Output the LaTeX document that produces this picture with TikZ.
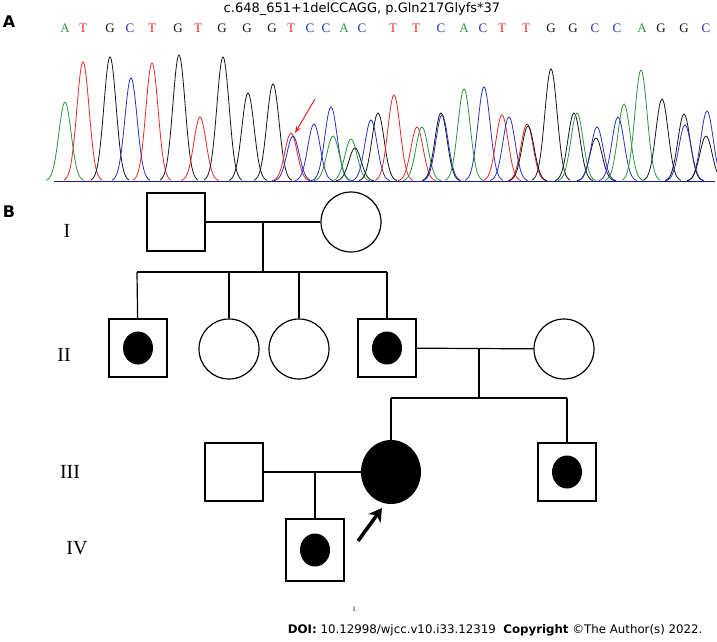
\documentclass[tikz,border=0pt]{standalone}
\usepackage{fontspec}
\setmainfont{Liberation Serif}
\newfontfamily\dvs{DejaVu Sans}
\usepackage{tikz}
\usetikzlibrary{arrows.meta, shapes.geometric}
\definecolor{cg}{RGB}{40,150,60}
\definecolor{cr}{RGB}{230,40,40}
\definecolor{cb}{RGB}{40,50,190}
\definecolor{ck}{RGB}{20,20,20}
\tikzset{
	male/.style={draw, line width=1.2pt, minimum size=58pt, inner sep=0pt},
	female/.style={draw, line width=1.2pt, circle, minimum size=60pt, inner sep=0pt},
	dot/.style={fill=black, ellipse, minimum width=30pt, minimum height=33pt, inner sep=0pt},
	gen/.style={font=\fontsize{20}{22}\selectfont},
	link/.style={line width=1.2pt}
}
\begin{document}
\begin{tikzpicture}[x=1pt,y=-1pt]
	\useasboundingbox (0,0) rectangle (717,641);

	% part A
	\node[font=\dvs\bfseries\fontsize{16}{18}\selectfont] at (9,22) {A};
	\node[font=\dvs\fontsize{13}{15}\selectfont] at (362,9) {c.648\_651+1delCCAGG, p.Gln217Glyfs*37};
	\foreach \x/\b/\c in {65/A/cg, 83/T/cr, 110/G/ck, 130/C/cb, 152/T/cr, 178/G/ck,
		198/T/cr, 222/G/ck, 247/G/ck, 272/G/ck, 291/T/cr, 310/C/cb, 326/C/cb,
		344/A/cg, 362/C/cb, 393/T/cr, 416/T/cr, 441/C/cb, 464/A/cg, 483/C/cb,
		502/T/cr, 526/T/cr, 551/G/ck, 573/G/ck, 595/C/cb, 617/C/cb, 642/A/cg,
		661/G/ck, 684/G/ck, 706/C/cb}
		\node[text=\c, font=\fontsize{13}{15}\selectfont] at (\x,28) {\b};

	\draw[cb!60!black, line width=1pt] (54,181) -- (715,181);
	\foreach \p/\h/\c in {65/102/cg, 83/62/cr, 110/57/ck, 131/78/cb, 152/63/cr,
		179/55/ck, 200/117/cr, 223/57/ck, 248/93/ck, 273/84/ck, 291/133/cr,
		293/136/cb, 314/124/cb, 331/107/cb, 333/136/cg, 351/139/cg, 355/148/ck,
		371/120/cb, 378/113/ck, 394/95/cr, 417/127/cr, 422/127/cg, 441/113/ck,
		442/115/cb, 464/89/cg, 484/87/cb, 502/115/cr, 509/117/cb, 527/124/cr,
		528/126/ck, 551/69/ck, 574/113/ck, 577/113/cg, 596/138/ck, 597/127/cb,
		618/117/cb, 624/104/cg, 641/70/cg, 662/99/ck, 684/114/ck, 685/125/cb,
		707/111/cb, 706/136/ck}
		\draw[\c, line width=.8pt] plot[smooth, domain=-19:19, samples=31]
			({\p+\x}, {181-(181-\h)*exp(-\x*\x/75)});
	\draw[cr, line width=1pt, -{Stealth[length=7pt]}] (315,99) -- (295,133);

	% part B
	\node[font=\dvs\bfseries\fontsize{16}{18}\selectfont] at (9,212) {B};
	\node[gen] at (67,231) {I};
	\node[gen] at (64,355) {II};
	\node[gen] at (70,472) {III};
	\node[gen] at (77,548) {IV};

	\node[male] (i1) at (176,222) {};
	\node[female] (i2) at (351,222) {};
	\node[male] (ii1) at (138,348) {};
	\node[dot] at (ii1) {};
	\node[female] (ii2) at (229,349) {};
	\node[female] (ii3) at (299,349) {};
	\node[male] (ii4) at (387,348) {};
	\node[dot] at (ii4) {};
	\node[female] (ii5) at (564,349) {};
	\node[male] (iii1) at (234,472) {};
	\node[fill=black, ellipse, minimum width=60pt, minimum height=64pt, inner sep=0pt] (iii2) at (391,472) {};
	\node[male] (iii3) at (567,472) {};
	\node[dot] at (iii3) {};
	\node[male, minimum height=62pt] (iv1) at (315,550) {};
	\node[dot] at (iv1) {};

	\draw[link] (i1) -- (i2);
	\coordinate (m1) at (263,222);
	\draw[link] (m1) -- (263,272);
	\draw[link] (137,272) -- (387,272);
	\draw[link] (137,272) -- (ii1);
	\draw[link] (229,272) -- (ii2);
	\draw[link] (299,272) -- (ii3);
	\draw[link] (387,272) -- (ii4);
	\draw[link] (ii4) -- (ii5);
	\draw[link] (479,349) -- (479,398);
	\draw[link] (391,398) -- (567,398);
	\draw[link] (391,398) -- (iii2);
	\draw[link] (567,398) -- (iii3);
	\draw[link] (iii1) -- (iii2);
	\draw[link] (315,472) -- (iv1);
	\coordinate (pb) at (358,541);
	\draw[line width=3.5pt, -{Stealth[length=13pt,width=15pt]}] (pb) -- (382,508);

	\node[font=\fontsize{7}{8}\selectfont] at (354,609) {1};
	\node[anchor=east, font=\dvs\fontsize{11.8}{13}\selectfont] at (706,630)
		{\textbf{DOI:} 10.12998/wjcc.v10.i33.12319\ \ \textbf{Copyright} \copyright The Author(s) 2022.};
\end{tikzpicture}
\end{document}
